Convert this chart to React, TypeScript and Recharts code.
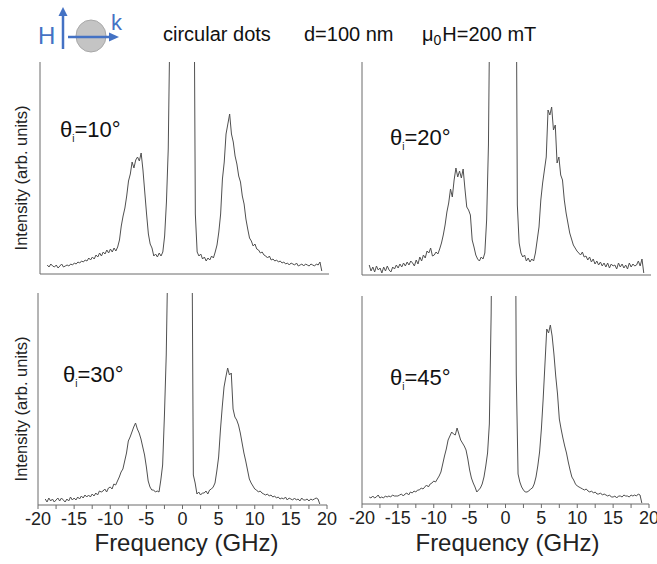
import { LineChart, Line, XAxis, YAxis } from 'recharts';

// sampled frequencies (GHz), shared by all four spectra
const freq = [
  -19, -18.75, -18.5, -18.25, -18, -17.75, -17.5, -17.25, -17, -16.75, -16.5, -16.25,
  -16, -15.75, -15.5, -15.25, -15, -14.75, -14.5, -14.25, -14, -13.75, -13.5, -13.25,
  -13, -12.75, -12.5, -12.25, -12, -11.75, -11.5, -11.25, -11, -10.75, -10.5, -10.25,
  -10, -9.75, -9.5, -9.25, -9, -8.75, -8.5, -8.25, -8, -7.75, -7.5, -7.25,
  -7, -6.75, -6.5, -6.25, -6, -5.75, -5.5, -5.25, -5, -4.75, -4.5, -4.25,
  -4, -3.75, -3.5, -3.25, -3, -2.75, -2.5, -2.25, -2, -1.75, -1.5, -1.25,
  -1, -0.75, -0.5, -0.25, 0, 0.25, 0.5, 0.75, 1, 1.25, 1.5, 1.75,
  2, 2.25, 2.5, 2.75, 3, 3.25, 3.5, 3.75, 4, 4.25, 4.5, 4.75,
  5, 5.25, 5.5, 5.75, 6, 6.25, 6.5, 6.75, 7, 7.25, 7.5, 7.75,
  8, 8.25, 8.5, 8.75, 9, 9.25, 9.5, 9.75, 10, 10.25, 10.5, 10.75,
  11, 11.25, 11.5, 11.75, 12, 12.25, 12.5, 12.75, 13, 13.25, 13.5, 13.75,
  14, 14.25, 14.5, 14.75, 15, 15.25, 15.5, 15.75, 16, 16.25, 16.5, 16.75,
  17, 17.25, 17.5, 17.75, 18, 18.25, 18.5, 18.75, 19,
];

// intensities (arb. units), one row per GHz
const theta10 = [
  9, 7, 10, 8, 7, 9, 6, 8, 10, 7, 8, 9,
  8, 10, 9, 11, 10, 12, 11, 13, 12, 14, 13, 16,
  14, 17, 15, 19, 17, 21, 18, 22, 20, 24, 21, 25,
  22, 26, 23, 27, 34, 48, 58, 66, 78, 93, 100, 112,
  106, 114, 117, 113, 121, 104, 82, 60, 40, 30, 26, 18,
  20, 17, 21, 18, 22, 38, 72, 125, 260, 600, 1200, 2500,
  4000, 6000, 8000, 9000, 8500, 7000, 5000, 3500, 1500, 400, 60, 22,
  18, 20, 15, 17, 13, 16, 14, 18, 16, 22, 29, 42,
  60, 95, 112, 140, 150, 160, 140, 132, 118, 110, 98, 92,
  78, 70, 55, 45, 36, 33, 28, 30, 25, 24, 21, 22,
  19, 18, 16, 18, 14, 15, 13, 14, 12, 13, 11, 12,
  10, 11, 9, 11, 10, 9, 11, 8, 9, 10, 8, 10,
  9, 8, 10, 9, 8, 10, 9, 12, 3,
];

const theta20 = [
  10, 4, 8, 3, 9, 5, 7, 2, 8, 4, 9, 5,
  3, 8, 6, 10, 7, 11, 8, 12, 9, 13, 10, 14,
  12, 9, 15, 11, 18, 14, 20, 17, 24, 22, 27, 19,
  20, 23, 21, 26, 32, 40, 50, 63, 72, 86, 78, 95,
  107, 98, 104, 97, 106, 86, 68, 65, 60, 35, 28, 20,
  16, 14, 18, 16, 22, 55, 130, 320, 700, 1400, 2600, 4000,
  6000, 8000, 9000, 9500, 9000, 7500, 5500, 3500, 1600, 450, 70, 32,
  22, 18, 20, 14, 17, 13, 16, 14, 22, 35, 48, 75,
  92, 105, 118, 165, 160, 168, 145, 150, 112, 118, 100, 95,
  75, 62, 52, 42, 36, 30, 27, 24, 22, 20, 23, 18,
  19, 15, 18, 13, 16, 11, 14, 10, 13, 9, 12, 8,
  12, 7, 11, 9, 10, 6, 12, 8, 11, 7, 10, 6,
  12, 8, 11, 9, 10, 14, 9, 16, 2,
];

const theta30 = [
  6, 3, 7, 4, 6, 3, 5, 7, 4, 7, 5, 3,
  6, 4, 8, 5, 7, 5, 8, 6, 9, 7, 10, 8,
  10, 8, 11, 9, 12, 10, 14, 13, 14, 16, 13, 17,
  18, 16, 21, 20, 24, 28, 33, 36, 44, 52, 64, 68,
  73, 78, 82, 76, 72, 66, 58, 50, 38, 24, 18, 15,
  15, 13, 14, 13, 25, 40, 90, 150, 260, 700, 1500, 3000,
  5000, 7000, 9000, 9500, 9000, 7000, 4500, 2500, 1100, 350, 30, 22,
  11, 13, 10, 12, 12, 14, 11, 15, 16, 18, 22, 34,
  48, 75, 98, 118, 128, 137, 130, 132, 96, 88, 85, 80,
  72, 62, 52, 44, 35, 26, 22, 19, 16, 15, 13, 14,
  12, 11, 10, 11, 9, 10, 8, 9, 7, 8, 6, 7,
  6, 8, 5, 7, 6, 5, 7, 5, 6, 4, 7, 5,
  5, 6, 4, 6, 5, 6, 7, 6, 1,
];

const theta45 = [
  7, 6, 8, 6, 7, 9, 6, 7, 6, 8, 7, 8,
  7, 9, 8, 8, 8, 9, 10, 8, 10, 11, 9, 12,
  11, 13, 12, 14, 14, 16, 15, 17, 19, 17, 20, 21,
  23, 22, 25, 28, 32, 40, 48, 55, 64, 68, 72, 70,
  69, 76, 70, 64, 61, 58, 54, 45, 34, 26, 21, 17,
  12, 14, 16, 20, 27, 38, 51, 80, 190, 400, 1000, 2500,
  4500, 7000, 9000, 9500, 9000, 7500, 5000, 2800, 1200, 500, 130, 30,
  22, 17, 14, 12, 12, 13, 15, 16, 20, 27, 38, 52,
  75, 105, 140, 175, 171, 179, 168, 150, 128, 110, 85, 75,
  66, 58, 51, 42, 34, 27, 24, 20, 18, 17, 16, 15,
  14, 15, 13, 12, 13, 11, 12, 10, 10, 11, 9, 10,
  9, 8, 9, 7, 7, 8, 6, 8, 8, 7, 9, 8,
  8, 7, 9, 8, 9, 8, 10, 9, 1,
];

const xTicks = [-20, -17.5, -15, -12.5, -10, -7.5, -5, -2.5, 0, 2.5, 5, 7.5, 10, 12.5, 15, 17.5, 20];
const yTicks10 = [0, 12, 24, 36, 48, 60, 72, 84, 96, 108, 120, 132, 144, 156, 168, 180, 192, 204];
const yTicks20 = [0, 43.5, 87, 130.5, 174];
const yTicks30 = [0, 24, 48, 72, 96, 120, 144, 168, 192];
const yTicks45 = [0, 16, 32, 48, 64, 80, 96, 112, 128, 144, 160, 176, 192, 208];

const toRows = (vals: number[]) => freq.map((f, i) => ({ f, v: vals[i] }));

const FONT = '"Liberation Sans", Arial, sans-serif';
const AXIS = '#6b6b6b';
const TRACE = '#505050';

interface PanelProps {
  values: number[];
  yMax: number;
  yTicks: number[];
  left: number;
  top: number;
  width: number;
  height: number;
  margin: { top: number; right: number; left: number; bottom: number };
  yWidth: number;
  xHeight: number;
  bottomRow?: boolean;
  yLabel?: boolean;
  xLabelDx?: number;
}

function Panel(p: PanelProps) {
  return (
    <div style={{ position: 'absolute', left: p.left, top: p.top }}>
      <LineChart width={p.width} height={p.height} data={toRows(p.values)} margin={p.margin}>
        <XAxis
          dataKey="f"
          type="number"
          domain={[-20, 20]}
          ticks={xTicks}
          interval={0}
          height={p.xHeight}
          stroke={AXIS}
          tickSize={4}
          tickMargin={3}
          tick={p.bottomRow ? { fill: '#222', fontSize: 18, fontFamily: FONT } : false}
          tickFormatter={(v: number) => (v % 5 === 0 ? String(v) : '')}
          label={
            p.bottomRow
              ? {
                  value: 'Frequency (GHz)',
                  position: 'insideBottom',
                  offset: 13,
                  dx: p.xLabelDx ?? 0,
                  style: { fontSize: 24, fontFamily: FONT, fill: '#222' },
                }
              : undefined
          }
        />
        <YAxis
          type="number"
          domain={[0, p.yMax]}
          allowDataOverflow
          ticks={p.yTicks}
          interval={0}
          width={p.yWidth}
          stroke={AXIS}
          tickSize={4}
          tick={false}
          label={
            p.yLabel
              ? {
                  value: 'Intensity (arb. units)',
                  angle: -90,
                  position: 'insideLeft',
                  offset: 21,
                  dy: 10,
                  style: { fontSize: 16.5, fontFamily: FONT, fill: '#222', textAnchor: 'middle' },
                }
              : undefined
          }
        />
        <Line
          type="linear"
          dataKey="v"
          stroke={TRACE}
          strokeWidth={1}
          dot={false}
          activeDot={false}
          isAnimationActive={false}
        />
      </LineChart>
    </div>
  );
}

function Angle({ x, y, deg }: { x: number; y: number; deg: string }) {
  return (
    <text x={x} y={y} fontSize={22} fontFamily={FONT} fill="#111">
      θ<tspan fontSize={10} dy={5}>i</tspan>
      <tspan dy={-5}>={deg}°</tspan>
    </text>
  );
}

export default function App() {
  const blue = '#4472c4';
  return (
    <div style={{ position: 'absolute', left: 0, top: 0, width: 657, height: 564, background: '#fff', overflow: 'hidden' }}>
      <Panel values={theta10} yMax={212} yTicks={yTicks10} left={0} top={40} width={335} height={240}
        margin={{ top: 22, right: 6, left: 0, bottom: 0 }} yWidth={40} xHeight={6} yLabel />
      <Panel values={theta20} yMax={213} yTicks={yTicks20} left={330} top={40} width={327} height={241}
        margin={{ top: 22, right: 6, left: 0, bottom: 0 }} yWidth={32} xHeight={6} />
      <Panel values={theta30} yMax={212} yTicks={yTicks30} left={0} top={280} width={347} height={284}
        margin={{ top: 13, right: 20, left: 0, bottom: 0 }} yWidth={38} xHeight={59} bottomRow yLabel xLabelDx={4} />
      <Panel values={theta45} yMax={208} yTicks={yTicks45} left={330} top={280} width={327} height={284}
        margin={{ top: 16, right: 8, left: 0, bottom: 0 }} yWidth={32} xHeight={60} bottomRow xLabelDx={2} />

      <svg width={657} height={564} style={{ position: 'absolute', left: 0, top: 0, pointerEvents: 'none' }}>
        {/* field / wavevector sketch */}
        <text x={38} y={44} fontSize={24} fontFamily={FONT} fill={blue}>H</text>
        <ellipse cx={91} cy={36} rx={15} ry={16} fill="#c4c4c4" stroke="#a8a8a8" />
        <line x1={63} y1={49} x2={63} y2={15} stroke={blue} strokeWidth={2.5} />
        <polygon points="63,7 58.5,16 67.5,16" fill={blue} />
        <line x1={68} y1={37} x2={110} y2={37} stroke={blue} strokeWidth={2.5} />
        <polygon points="119,37 109,32.5 109,41.5" fill={blue} />
        <text x={111} y={30} fontSize={22} fontFamily={FONT} fill={blue}>k</text>

        <text x={163} y={41} fontSize={20} fontFamily={FONT} fill="#111">circular dots</text>
        <text x={304} y={41} fontSize={20} fontFamily={FONT} fill="#111">d=100 nm</text>
        <text x={422} y={41} fontSize={20} fontFamily={FONT} fill="#111">
          μ<tspan fontSize={14} dy={4}>0</tspan>
          <tspan dy={-4} dx={1}>H=200 mT</tspan>
        </text>

        <Angle x={60} y={137} deg="10" />
        <Angle x={390} y={145} deg="20" />
        <Angle x={63} y={382} deg="30" />
        <Angle x={390} y={385} deg="45" />
      </svg>
    </div>
  );
}
